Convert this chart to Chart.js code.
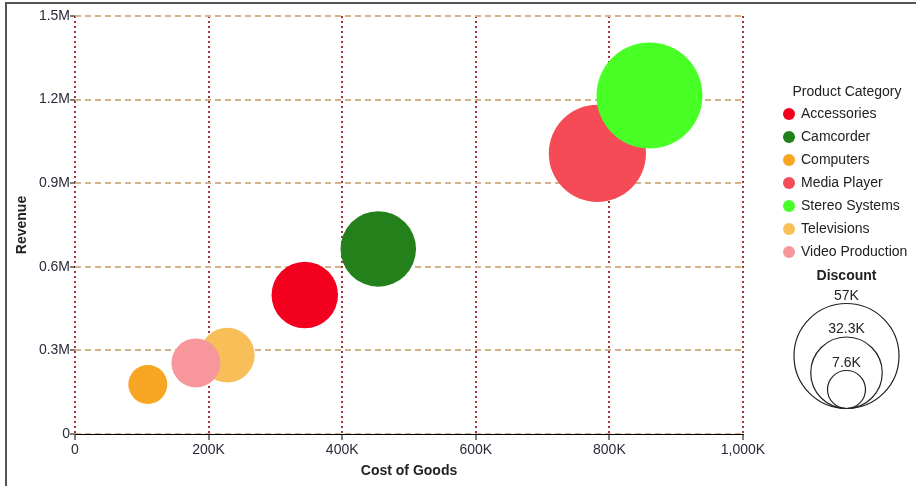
<!DOCTYPE html>
<html>
<head>
<meta charset="utf-8">
<title>Revenue vs Cost of Goods</title>
<script src="https://cdn.jsdelivr.net/npm/chart.js@4.4.1/dist/chart.umd.min.js"></script>
<style>
  html, body { margin: 0; padding: 0; background: #fff; }
  .wrap { position: relative; width: 916px; height: 486px; overflow: hidden; }
  .frame {
    position: absolute; left: 5px; top: 2px; right: -10px; bottom: -10px;
    border-top: 2px solid #555; border-left: 2px solid #555;
    pointer-events: none;
  }
  canvas { display: block; }
</style>
</head>
<body>
<div class="wrap">
  <canvas id="bubbleChart" width="916" height="486"></canvas>
  <div class="frame"></div>
</div>
<script>
  "use strict";

  // Chart data
  var categories = ["Accessories", "Camcorder", "Computers", "Media Player", "Stereo Systems", "Televisions", "Video Production"];
  var costOfGoods = [344000, 454000, 109000, 782000, 860000, 228000, 181000];
  var revenue = [499000, 664000, 178000, 1007000, 1215000, 283000, 255000];
  var discount = [27900, 34500, 7600, 50500, 57000, 19200, 14900];
  var colors = ["#f2001e", "#23801a", "#f6a623", "#f54b56", "#48ff26", "#f8bf58", "#f7979b"];

  var xTickLabels = ["0", "200K", "400K", "600K", "800K", "1,000K"];
  var yTickLabels = ["0", "0.3M", "0.6M", "0.9M", "1.2M", "1.5M"];

  var FONT = "'Liberation Sans', Arial, sans-serif";

  // bubble size: linear from smallest to largest discount
  var dMin = Math.min.apply(null, discount);
  var dMax = Math.max.apply(null, discount);
  var rMin = 19.5, rMax = 53;
  function radiusFor(v) {
    return rMin + (v - dMin) / (dMax - dMin) * (rMax - rMin);
  }

  function fmtK(v) {
    return parseFloat((v / 1000).toFixed(1)) + "K";
  }

  // Draws the category legend and the discount size legend on the right
  var sideLegends = {
    id: "sideLegends",
    afterDraw: function (chart) {
      var ctx = chart.ctx;
      ctx.save();
      ctx.font = "14px " + FONT;
      ctx.textBaseline = "middle";
      ctx.textAlign = "center";
      ctx.fillStyle = "#222";
      ctx.fillText("Product Category", 847, 92);

      categories.forEach(function (name, i) {
        var y = 114 + i * 23;
        ctx.beginPath();
        ctx.arc(789, y, 6, 0, Math.PI * 2);
        ctx.fillStyle = colors[i];
        ctx.fill();
        ctx.fillStyle = "#222";
        ctx.textAlign = "left";
        ctx.fillText(name, 801, y);
      });

      // Discount legend
      ctx.textAlign = "center";
      ctx.font = "bold 14px " + FONT;
      ctx.fillText("Discount", 846.5, 276);

      var cx = 846.5, bottom = 409;
      var sizes = [dMax, (dMax + dMin) / 2, dMin];
      ctx.font = "14px " + FONT;
      ctx.strokeStyle = "#222";
      ctx.lineWidth = 1.2;
      sizes.forEach(function (v) {
        var r = radiusFor(v);
        ctx.beginPath();
        ctx.arc(cx, bottom - r, r - 0.5, 0, Math.PI * 2);
        ctx.stroke();
        ctx.fillStyle = "#222";
        ctx.fillText(fmtK(v), cx, bottom - 2 * r - 7);
      });
      ctx.restore();
    },
  };

  var points = categories.map(function (c, i) {
    return { x: costOfGoods[i], y: revenue[i], r: radiusFor(discount[i]) };
  });

  var ctx = document.getElementById("bubbleChart").getContext("2d");

  new Chart(ctx, {
    type: "bubble",
    data: {
      datasets: [
        {
          label: "Product Category",
          data: points,
          backgroundColor: colors,
          borderWidth: 0,
          hoverBorderWidth: 0,
          hoverRadius: 0,
        },
      ],
    },
    options: {
      responsive: false,
      animation: false,
      devicePixelRatio: 1,
      layout: {
        autoPadding: false,
        padding: { left: 14, top: 16, right: 173, bottom: 6 },
      },
      plugins: {
        legend: { display: false },
        tooltip: { enabled: false },
      },
      scales: {
        x: {
          type: "linear",
          min: 0,
          max: 1000000,
          afterFit: function (scale) { scale.height = 46; },
          ticks: {
            stepSize: 200000,
            padding: 2,
            color: "#2a2a3a",
            font: { family: FONT, size: 14 },
            maxRotation: 0,
            callback: function (v, i) { return xTickLabels[i]; },
          },
          grid: {
            color: "#a8303a",
            lineWidth: 2,
            tickColor: "#000",
            tickLength: 6,
            tickWidth: 1,
          },
          border: { display: true, color: "#000", width: 1, dash: [2, 3] },
          title: {
            display: true,
            text: "Cost of Goods",
            color: "#222",
            padding: { top: 0, bottom: 0 },
            font: { family: FONT, size: 14, weight: "bold" },
          },
        },
        y: {
          type: "linear",
          min: 0,
          max: 1500000,
          afterFit: function (scale) { scale.width = 61; },
          ticks: {
            stepSize: 300000,
            padding: 0,
            color: "#2a2a3a",
            font: { family: FONT, size: 14 },
            callback: function (v, i) { return yTickLabels[i]; },
          },
          grid: {
            color: "#d2b48c",
            lineWidth: 2,
            tickColor: "#000",
            tickLength: 5,
            tickWidth: 1,
          },
          border: { display: false, dash: [6, 4] },
          title: {
            display: true,
            text: "Revenue",
            color: "#222",
            padding: { top: 0, bottom: 0 },
            font: { family: FONT, size: 14, weight: "bold" },
          },
        },
      },
    },
    plugins: [sideLegends],
  });
</script>
</body>
</html>
